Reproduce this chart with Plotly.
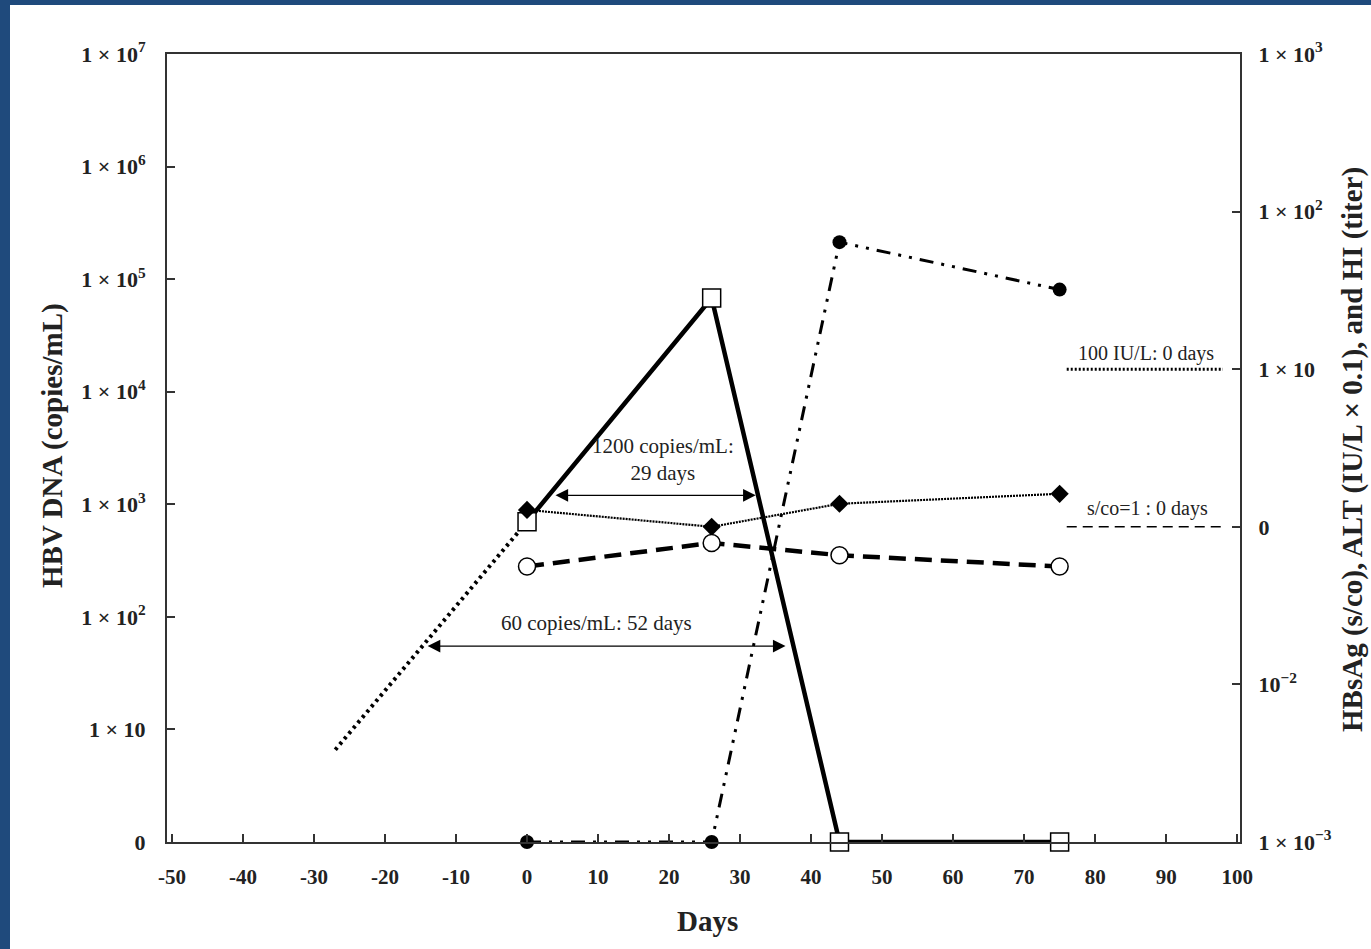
import math
import plotly.graph_objects as go

# ---------------- data ----------------
days = [0, 26, 44, 75]
hbv_dna = [700, 68000, 1, 1]            # copies/mL (bottom "0" label = 1e0)
hbv_extrap_days = [-27, 0]
hbv_extrap_vals = [6.6, 700]
hi_titer = [0.01, 0.01, 64, 32]           # right axis
alt_x01 = [1.28, 1.0, 1.40, 1.62]         # right axis (diamonds, dotted)
hbsag = [0.56, 0.79, 0.66, 0.56]          # right axis (open circles, dashed)

left_tickvals = [1, 10, 100, 1e3, 1e4, 1e5, 1e6, 1e7]
left_ticktext = ["0", "1 × 10", "1 × 10<sup>2</sup>", "1 × 10<sup>3</sup>",
                 "1 × 10<sup>4</sup>", "1 × 10<sup>5</sup>", "1 × 10<sup>6</sup>",
                 "1 × 10<sup>7</sup>"]
right_tickvals = [0.01, 0.1, 1, 10, 100, 1000]
right_ticktext = ["1 × 10<sup>−3</sup>", "10<sup>−2</sup>", "0", "1 × 10",
                  "1 × 10<sup>2</sup>", "1 × 10<sup>3</sup>"]
x_tickvals = list(range(-50, 101, 10))

alt_cut_days = [76, 98]
alt_cut_vals = [10, 10]
hbsag_cut_days = [76, 98]
hbsag_cut_vals = [1, 1]

arrow1200 = dict(x0=3.8, x1=32.2, y=1200, label="1200 copies/mL:<br>29 days")
arrow60 = dict(x0=-14.2, x1=36.4, y=55, label="60 copies/mL: 52 days")

FONT = "Liberation Serif"
INK = "#222222"

fig = go.Figure()

# HBV DNA extrapolation (dotted)
fig.add_trace(go.Scatter(x=hbv_extrap_days, y=hbv_extrap_vals, mode="lines",
                         line=dict(color="black", width=4, dash="3px,4px"),
                         yaxis="y", showlegend=False))
# ALT (dotted, diamonds)
fig.add_trace(go.Scatter(x=days, y=alt_x01, mode="lines+markers", yaxis="y2",
                         line=dict(color="black", width=2.2, dash="2px,1px"),
                         marker=dict(symbol="diamond", size=14, color="black"),
                         showlegend=False))
# HBsAg (dashed, open circles)
fig.add_trace(go.Scatter(x=days, y=hbsag, mode="lines+markers", yaxis="y2",
                         line=dict(color="black", width=4.5, dash="17px,9px"),
                         marker=dict(symbol="circle", size=17, color="white",
                                     line=dict(color="black", width=1.5)),
                         showlegend=False))
# HI (dash-dot-dot, filled circles)
fig.add_trace(go.Scatter(x=days, y=hi_titer, mode="lines+markers", yaxis="y2",
                         line=dict(color="black", width=3,
                                   dash="14px,8px,3px,8px,3px,8px"),
                         marker=dict(symbol="circle", size=14, color="black"),
                         showlegend=False, cliponaxis=False))
# HBV DNA (solid, open squares)
fig.add_trace(go.Scatter(x=days, y=hbv_dna, mode="lines+markers", yaxis="y",
                         line=dict(color="black", width=4.5),
                         marker=dict(symbol="square", size=18, color="white",
                                     line=dict(color="black", width=1.5)),
                         showlegend=False, cliponaxis=False))
# cut-off lines
fig.add_trace(go.Scatter(x=alt_cut_days, y=alt_cut_vals, mode="lines", yaxis="y2",
                         line=dict(color="black", width=3, dash="2px,2px"),
                         showlegend=False))
fig.add_trace(go.Scatter(x=hbsag_cut_days, y=hbsag_cut_vals, mode="lines", yaxis="y2",
                         line=dict(color="black", width=1.5, dash="10px,6px"),
                         showlegend=False))

annotations = []
for a in (arrow1200, arrow60):
    ly = math.log10(a["y"])
    annotations.append(dict(x=a["x1"], y=ly, ax=a["x0"], ay=ly, xref="x", yref="y",
                            axref="x", ayref="y", text="", showarrow=True,
                            arrowhead=2, startarrowhead=2, arrowside="end+start",
                            arrowsize=1.8, startarrowsize=1.8, arrowwidth=1.4,
                            arrowcolor="black"))
annotations.append(dict(x=(arrow1200["x0"] + arrow1200["x1"]) / 2 + 1.2,
                        y=math.log10(arrow1200["y"]), xref="x", yref="y",
                        text=arrow1200["label"], showarrow=False, yanchor="bottom",
                        yshift=8, font=dict(family=FONT, size=21, color=INK)))
annotations.append(dict(x=(arrow60["x0"] + arrow60["x1"]) / 2 - 1.3,
                        y=math.log10(arrow60["y"]), xref="x", yref="y",
                        text=arrow60["label"], showarrow=False, yanchor="bottom",
                        yshift=9, font=dict(family=FONT, size=21, color=INK)))
annotations.append(dict(x=87.2, y=1, xref="x", yref="y2", text="100 IU/L: 0 days",
                        showarrow=False, yanchor="bottom", yshift=2,
                        font=dict(family=FONT, size=20, color=INK)))
annotations.append(dict(x=87.4, y=0, xref="x", yref="y2", text="s/co=1 : 0 days",
                        showarrow=False, yanchor="bottom", yshift=5,
                        font=dict(family=FONT, size=20, color=INK)))

# axis titles
W, H = 1371, 949
L, R, T, B = 167, 131, 54, 107
pw, ph = W - L - R, H - T - B


def px(x):
    return (x - L) / pw


def py(y):
    return (H - B - y) / ph


annotations.append(dict(x=px(52), y=py(446), xref="paper", yref="paper",
                        xanchor="center", yanchor="middle",
                        text="<b>HBV DNA (copies/mL)</b>", textangle=-90,
                        showarrow=False, font=dict(family=FONT, size=29, color=INK)))
annotations.append(dict(x=px(1352), y=py(450), xref="paper", yref="paper",
                        xanchor="center", yanchor="middle",
                        text="<b>HBsAg (s/co), ALT (IU/L × 0.1), and HI (titer)</b>",
                        textangle=-90, showarrow=False,
                        font=dict(family=FONT, size=29, color=INK)))
annotations.append(dict(x=px(707), y=py(921), xref="paper", yref="paper",
                        xanchor="center", yanchor="middle",
                        text="<b>Days</b>", showarrow=False,
                        font=dict(family=FONT, size=29, color=INK)))

shapes = [
    dict(type="rect", xref="paper", yref="paper", x0=px(-5), x1=px(10), y0=py(H + 5),
         y1=py(-5), fillcolor="#1F4A7C", line=dict(width=0), layer="below"),
    dict(type="rect", xref="paper", yref="paper", x0=px(-5), x1=px(W + 5), y0=py(5),
         y1=py(-5), fillcolor="#1F4A7C", line=dict(width=0), layer="below"),
]

tickfont = dict(family=FONT, size=22, color=INK)
fig.update_layout(
    width=W, height=H,
    margin=dict(l=L, r=R, t=T, b=B),
    paper_bgcolor="white", plot_bgcolor="white",
    showlegend=False,
    xaxis=dict(range=[-50.7, 100.4], tickvals=x_tickvals,
               ticktext=[f"<b>{v}</b>" for v in x_tickvals],
               ticks="inside", ticklen=8, tickwidth=1.5, tickcolor="#333",
               showline=True, linecolor="#333", linewidth=2, mirror=True,
               showgrid=False, zeroline=False,
               tickfont=dict(family=FONT, size=21, color=INK),
               ticklabelstandoff=15),
    yaxis=dict(type="log", range=[0, 7], tickvals=left_tickvals,
               ticktext=[f"<b>{t}</b>" for t in left_ticktext],
               ticks="inside", ticklen=8, tickwidth=1.5, tickcolor="#333",
               showline=True, linecolor="#333", linewidth=2,
               showgrid=False, zeroline=False, tickfont=tickfont,
               ticklabelstandoff=15),
    yaxis2=dict(type="log", range=[-2, 3], overlaying="y", side="right",
                tickvals=right_tickvals,
                ticktext=[f"<b>{t}</b>" for t in right_ticktext],
                ticks="inside", ticklen=8, tickwidth=1.5, tickcolor="#333",
                showline=True, linecolor="#333", linewidth=2,
                showgrid=False, zeroline=False, tickfont=tickfont,
                ticklabelstandoff=12),
    annotations=annotations,
    shapes=shapes,
)

fig.write_html("out.html", config={"displayModeBar": False},
               post_script="document.body.style.margin='0';"
                           "document.body.style.overflow='hidden';")
